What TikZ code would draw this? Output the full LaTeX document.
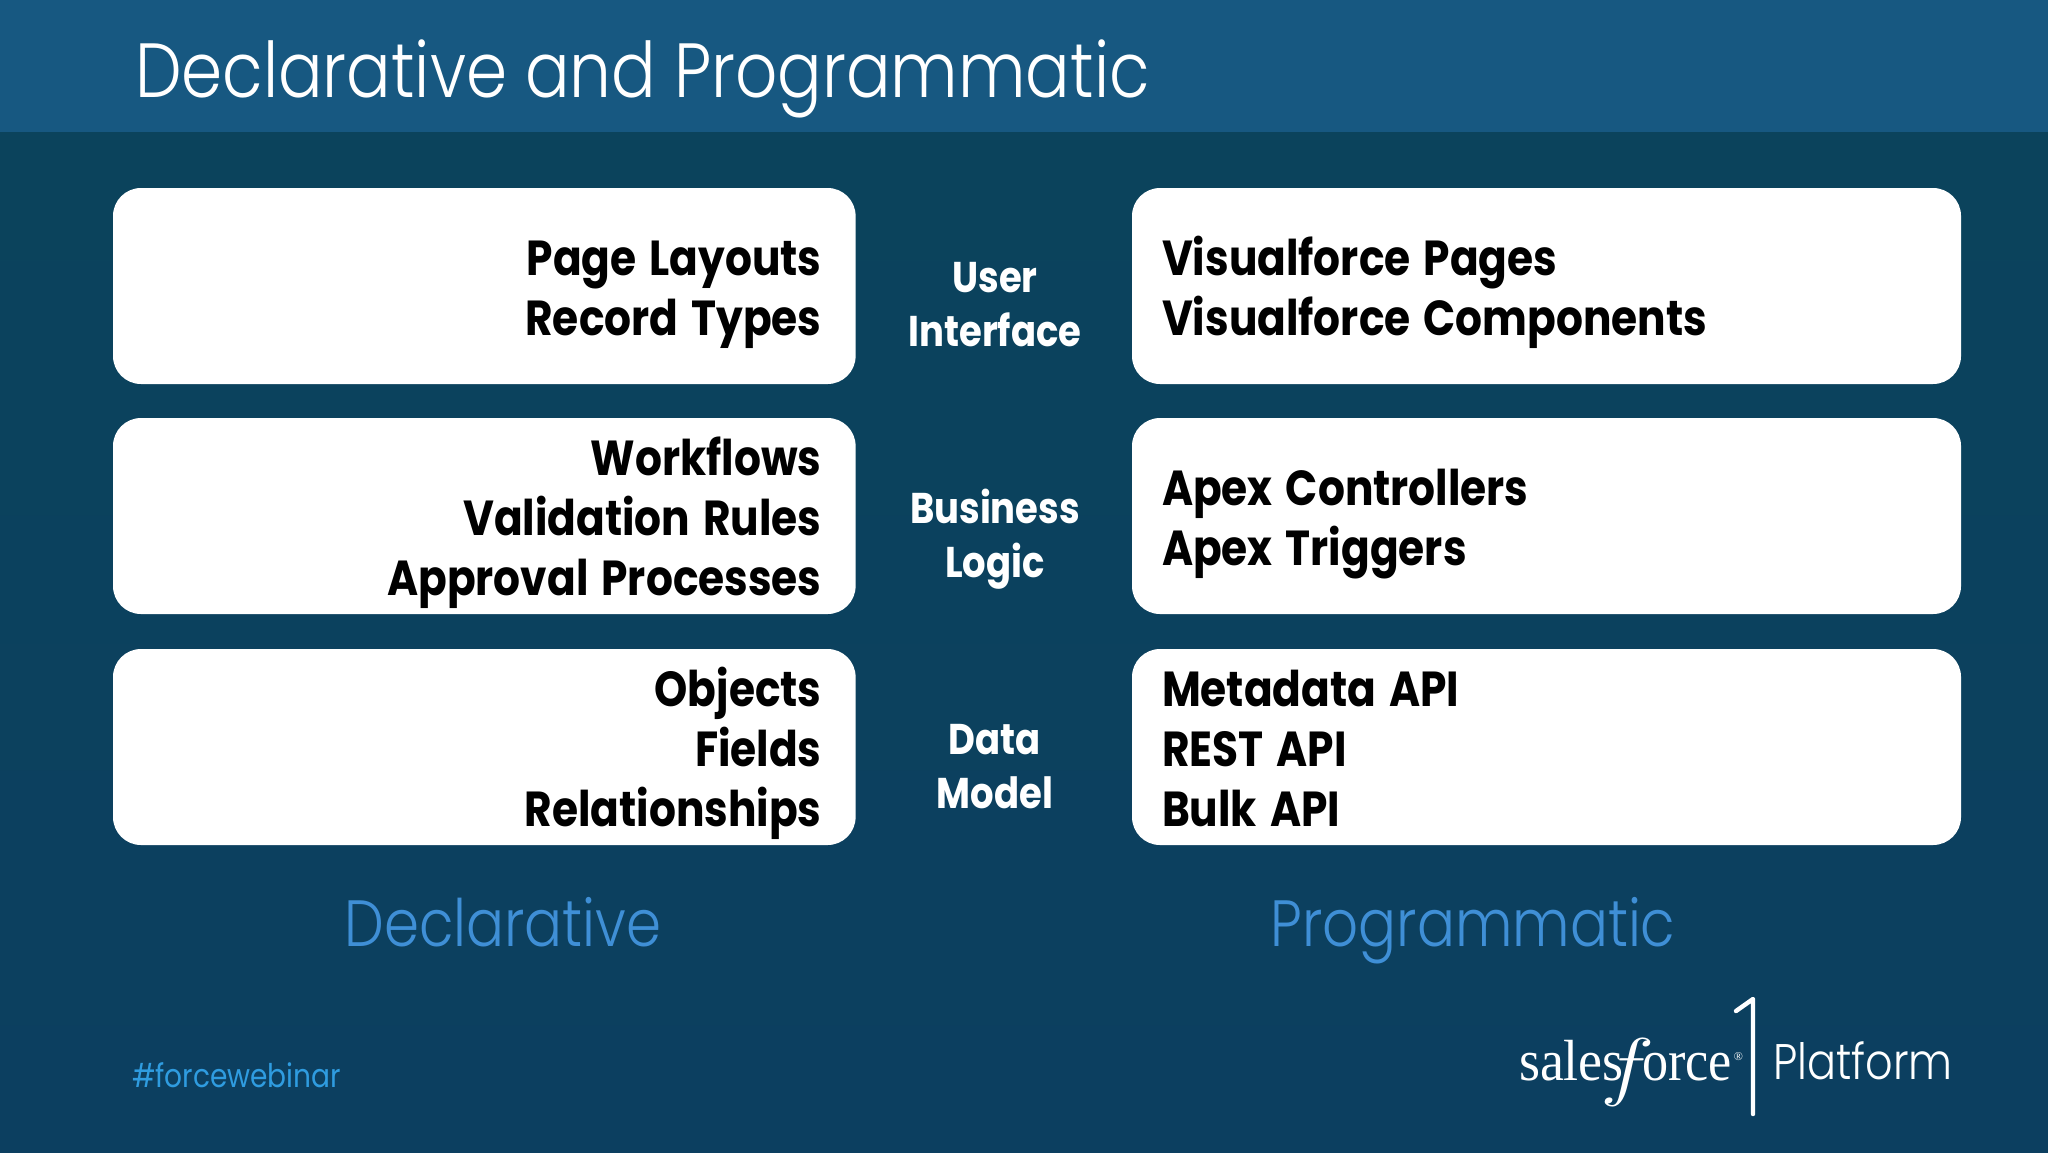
\documentclass[tikz,border=0pt]{standalone}
\usepackage{fontspec}
\usepackage{xcolor}
\setmainfont{Poppins}[FakeStretch=0.86]
\newfontfamily\thinfont{Poppins Light}[FakeStretch=0.86]
\newfontfamily\boldfont{Poppins Bold}[FakeStretch=0.86]
\newfontfamily\logofont{Liberation Serif}
\definecolor{bodytop}{HTML}{0B435C}
\definecolor{bodybot}{HTML}{0C3F60}
\definecolor{headblue}{HTML}{175881}
\definecolor{sideblue}{HTML}{3F8FD6}
\definecolor{tagblue}{HTML}{2F9CE0}
\newcommand{\topstrut}{\rule{0pt}{27.6pt}}
\newcommand{\botstrut}{\rule[-8pt]{0pt}{8pt}}
\newcommand{\listspace}{\setlength{\spaceskip}{6.5pt}}

\begin{document}
\begin{tikzpicture}[x=0.5pt, y=-0.5pt,
    every node/.style={inner sep=0pt, outer sep=0pt},
    listbox/.style={fill=white, rounded corners=14pt, minimum height=98pt, font=\boldfont\fontsize{24.6}{30}\selectfont,
        execute at begin node=\listspace\topstrut, execute at end node=\botstrut},
    leftbox/.style={listbox, text width=337.3pt, inner xsep=17pt, align=right},
    rightbox/.style={listbox, text width=384.5pt, inner xsep=15pt, align=left},
    midlabel/.style={text=white, align=center, font=\boldfont\fontsize{21.5}{27}\selectfont},
    sidelabel/.style={anchor=base, text=sideblue, font=\thinfont\fontsize{32.7}{38}\selectfont}]
    \useasboundingbox (0,0) rectangle (2048,1152);
    \fill[top color=bodytop, bottom color=bodybot] (0,132) rectangle (2048,1152);
    \fill[headblue] (0,0) rectangle (2048,132);
    \node[anchor=base west, text=white, font=\thinfont\fontsize{38.4}{44}\selectfont] (title) at (135,97) {Declarative and Programmatic};

    \node[leftbox, anchor=north west] (pages) at (113,188) {Page Layouts\\Record Types};
    \node[leftbox, anchor=north west] (logic) at (113,418) {Workflows\\Validation Rules\\Approval Processes};
    \node[leftbox, anchor=north west] (model) at (113,649) {Objects\\Fields\\Relationships};
    \node[rightbox, anchor=north west] (vf) at (1132,188) {Visualforce Pages\\Visualforce Components};
    \node[rightbox, anchor=north west] (apex) at (1132,418) {Apex Controllers\\Apex Triggers};
    \node[rightbox, anchor=north west] (api) at (1132,649) {Metadata API\\REST API\\Bulk API};

    \node[midlabel] (ui) at (995,305) {User\\Interface};
    \node[midlabel] (biz) at (995,539) {Business\\Logic};
    \node[midlabel] (data) at (995,767) {Data\\Model};

    \node[sidelabel] (decl) at (503,946) {Declarative};
    \node[sidelabel] (prog) at (1473,946) {Programmatic};

    \node[anchor=base west, text=tagblue, font=\fontsize{16.3}{20}\selectfont] (tag) at (132,1087) {\#forcewebinar};

    % logo
    \node[anchor=base west, text=white, font=\logofont\fontsize{29}{32}\selectfont] (sf) at (1519,1080)
        {\scalebox{0.93}[1]{sales}\kern-11.5pt\raisebox{-5.5pt}{\fontsize{24.88}{30}\selectfont\scalebox{1.85}[1.53]{$f$}}\kern-6.5pt\scalebox{0.9}[1]{orce}\kern1pt\raisebox{10pt}{\fontsize{6}{6}\selectfont ®}};
    \draw[white, line width=2.2pt, line cap=round, line join=round] (1736,1011) -- (1753,999) -- (1753,1114);
    \node[anchor=base west, text=white, font=\thinfont\fontsize{25}{30}\selectfont] (plat) at (1773,1079) {Platform};
\end{tikzpicture}
\end{document}
